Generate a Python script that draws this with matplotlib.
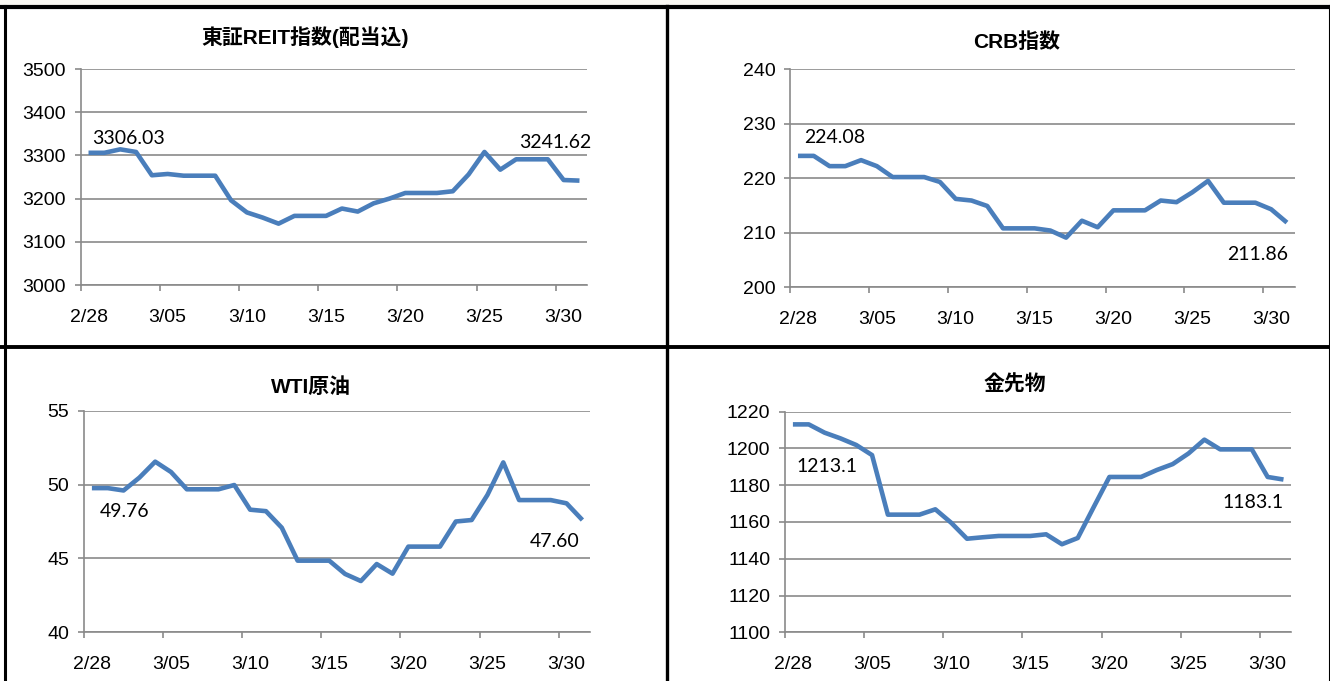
import numpy as np
import matplotlib
matplotlib.use("Agg")
import matplotlib.pyplot as plt
from matplotlib.lines import Line2D
from matplotlib.patches import Rectangle

# daily points 2/28 .. 3/31
dates = ['2/28', '3/01', '3/02', '3/03', '3/04', '3/05', '3/06', '3/07',
         '3/08', '3/09', '3/10', '3/11', '3/12', '3/13', '3/14', '3/15',
         '3/16', '3/17', '3/18', '3/19', '3/20', '3/21', '3/22', '3/23',
         '3/24', '3/25', '3/26', '3/27', '3/28', '3/29', '3/30', '3/31']

reit = [3306.03, 3306, 3314, 3308, 3254, 3257, 3253, 3253, 3253, 3196,
        3168, 3156, 3142, 3160, 3160, 3160, 3177, 3170, 3189, 3200,
        3213, 3213, 3213, 3217, 3256, 3308, 3267, 3291, 3291, 3291,
        3243, 3241.62]
crb = [224.08, 224.08, 222.2, 222.2, 223.3, 222.2, 220.2, 220.2, 220.2, 219.3,
       216.2, 215.9, 214.9, 210.8, 210.8, 210.8, 210.4, 209.1, 212.2, 211.0,
       214.1, 214.1, 214.1, 215.9, 215.6, 217.4, 219.5, 215.5, 215.5, 215.5,
       214.3, 211.86]
wti = [49.76, 49.76, 49.6, 50.47, 51.55, 50.85, 49.68, 49.68, 49.68, 49.97,
       48.3, 48.2, 47.08, 44.85, 44.85, 44.85, 43.95, 43.47, 44.62, 43.97,
       45.8, 45.8, 45.8, 47.5, 47.6, 49.3, 51.5, 48.95, 48.95, 48.95,
       48.73, 47.60]
gold = [1213.1, 1213.1, 1208.6, 1205.5, 1201.9, 1196.4, 1164.0, 1164.0, 1164.0, 1166.9,
        1159.6, 1150.9, 1151.7, 1152.4, 1152.4, 1152.4, 1153.3, 1147.9, 1151.3, 1168.0,
        1184.5, 1184.5, 1184.5, 1188.3, 1191.5, 1197.3, 1204.8, 1199.5, 1199.5, 1199.5,
        1184.5, 1183.1]

titles = ['東証REIT指数(配当込)', 'CRB指数', 'WTI原油', '金先物']
yticks = [np.arange(3000, 3501, 100), np.arange(200, 241, 10),
          np.arange(40, 56, 5), np.arange(1100, 1221, 20)]
first_labels = ['3306.03', '224.08', '49.76', '1213.1']
last_labels = ['3241.62', '211.86', '47.60', '1183.1']

W, H = 1330, 681
# plot area in pixels: left, right, top, bottom
boxes = [(80.6, 587.4, 69, 285), (790.1, 1294.8, 69, 287.3),
         (84, 590.3, 410.7, 632.3), (785, 1291.4, 411.7, 632.3)]
title_pos = [(305, 37), (1017, 42), (311, 387), (1015, 384)]
first_off = [(4, 14, 'left'), (6, 18, 'left'), (8, -23, 'left'), (4, -42, 'left')]
last_off = [(12, 38, 'right'), (1, -32, 'right'), (-3, -21, 'right'), (0, -23, 'right')]

blue = '#4a7ebb'
grey = '#8a8a8a'
tick_font = ['Liberation Sans', 'DejaVu Sans']
title_font = ['Liberation Sans', 'Noto Sans CJK JP', 'DejaVu Sans']

fig = plt.figure(figsize=(W / 100, H / 100), dpi=100)
fig.patch.set_facecolor('white')

series = [reit, crb, wti, gold]
x = np.arange(len(dates))
for k in range(4):
    l, r, t, b = boxes[k]
    ax = fig.add_axes([l / W, (H - b) / H, (r - l) / W, (b - t) / H])
    ax.plot(x, series[k], color=blue, lw=3.3, solid_joinstyle='round',
            solid_capstyle='butt', zorder=3)
    ax.set_xlim(-0.5, len(dates) - 0.5)
    ax.set_ylim(yticks[k][0], yticks[k][-1])
    ax.set_yticks(yticks[k])
    ax.set_yticklabels([str(v) for v in yticks[k]], fontsize=14, family=tick_font)
    ax.set_xticks(x[::5])
    ax.set_xticklabels(dates[::5], fontsize=14, family=tick_font)
    ax.set_xticks(np.arange(-0.5, len(dates) - 1, 5), minor=True)
    ax.tick_params(axis='x', which='major', length=0, pad=17)
    ax.tick_params(axis='x', which='minor', length=4, width=1.2, color=grey,
                   direction='out')
    ax.tick_params(axis='y', length=4.5, width=1.2, color=grey, pad=6)
    ax.grid(axis='y', color=grey, lw=1.2, zorder=1)
    ax.set_axisbelow(True)
    for s in ['top', 'right']:
        ax.spines[s].set_visible(False)
    for s in ['left', 'bottom']:
        ax.spines[s].set_color(grey)
        ax.spines[s].set_linewidth(1.2)

    dx, dy, ha = first_off[k]
    ax.annotate(first_labels[k], xy=(x[0], series[k][0]), xytext=(dx, dy),
                textcoords='offset pixels', ha=ha, va='center', fontsize=14,
                family=['Lato', 'DejaVu Sans'])
    dx, dy, ha = last_off[k]
    ax.annotate(last_labels[k], xy=(x[-1], series[k][-1]), xytext=(dx, dy),
                textcoords='offset pixels', ha=ha, va='center', fontsize=14,
                family=['Lato', 'DejaVu Sans'])

    tx, ty = title_pos[k]
    fig.text(tx / W, 1 - ty / H, titles[k], ha='center', va='center',
             fontsize=15, fontweight='bold', family=title_font)

# frame lines
ov = fig.add_axes([0, 0, 1, 1], zorder=10)
ov.set_xlim(0, W)
ov.set_ylim(H, 0)
ov.axis('off')
ov.patch.set_alpha(0)
ov.add_patch(Rectangle((0, 0), W, 5.5, color='#faf8f3', lw=0))
ov.add_line(Line2D([0, W], [7, 7], color='black', lw=3))
ov.add_line(Line2D([4.7, 4.7], [5.5, H], color='black', lw=2.2))
ov.add_line(Line2D([667.3, 667.3], [5.5, H], color='black', lw=2.4))
ov.add_line(Line2D([0, W], [347, 347], color='black', lw=2.8))
ov.add_line(Line2D([1329.5, 1329.5], [5.5, H], color='black', lw=1.5))

fig.savefig('out.png', dpi=100)
